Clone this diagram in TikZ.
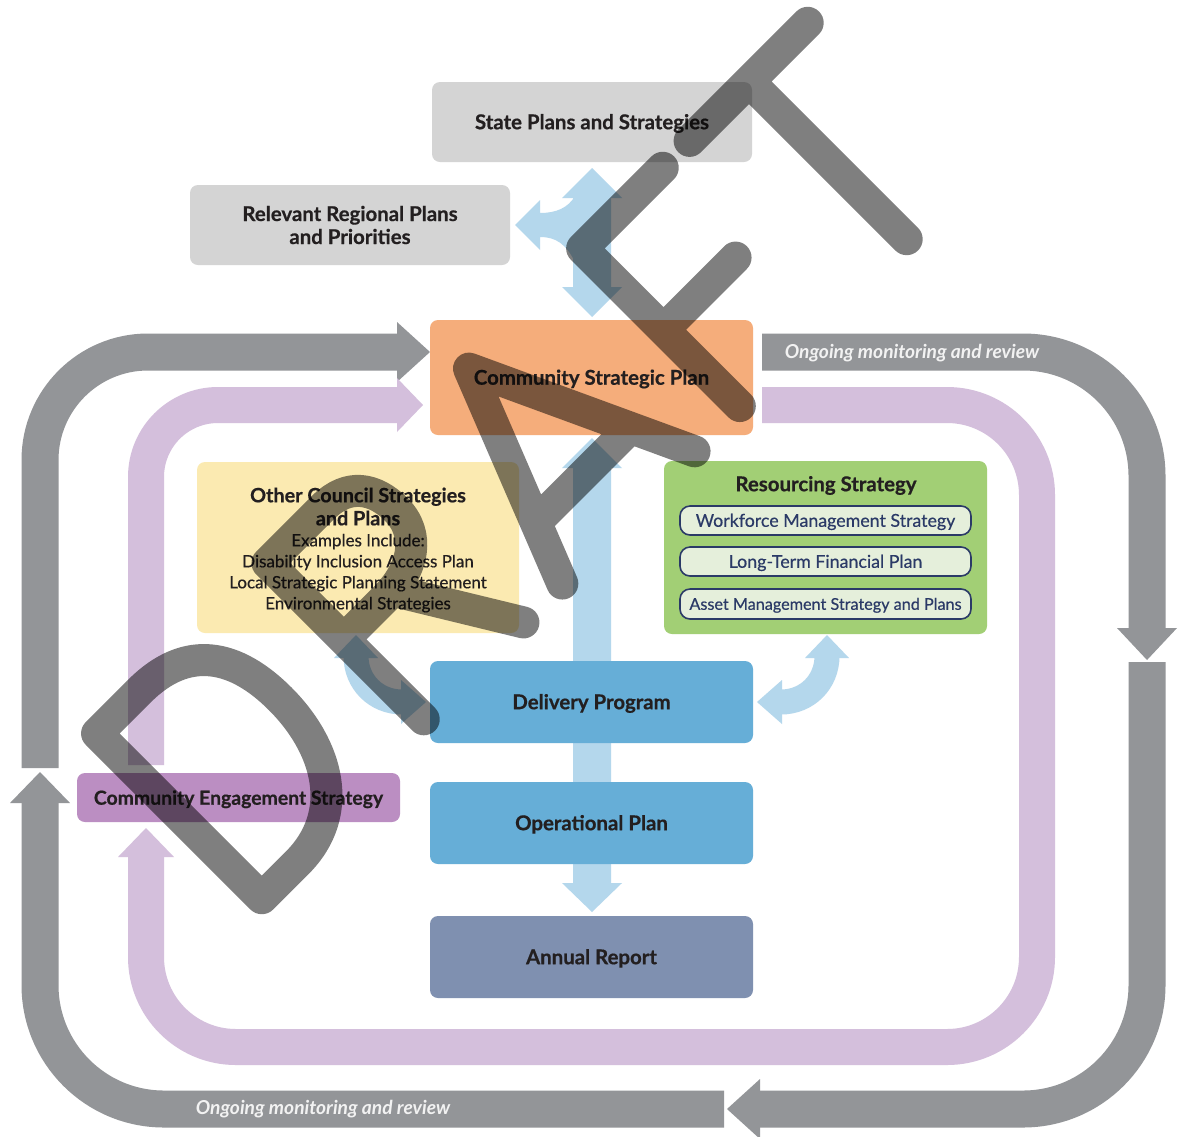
\documentclass[tikz,border=0pt]{standalone}
\usepackage{fontspec}
\setmainfont{Lato}[BoldFeatures={FakeBold=0.6}]
\newfontfamily\medfont{Lato}[FakeBold=0.5]
\definecolor{gbox}{HTML}{D4D4D4}
\definecolor{csp}{HTML}{F5AD7B}
\definecolor{ylw}{HTML}{FBEAB1}
\definecolor{grn}{HTML}{A2CF75}
\definecolor{subfill}{HTML}{E5EFDB}
\definecolor{navy}{HTML}{2B3A67}
\definecolor{bluebox}{HTML}{66AED7}
\definecolor{annual}{HTML}{7F90B0}
\definecolor{cebox}{HTML}{BB8EC2}
\definecolor{loopgray}{HTML}{939598}
\definecolor{looppurple}{HTML}{D4BFDC}
\definecolor{lblue}{HTML}{B4D7EC}
\definecolor{ink}{HTML}{231F20}
\definecolor{band}{HTML}{F2F2F2}
\begin{document}
\begin{tikzpicture}[x=0.5pt,y=-0.5pt,
  box/.style={rounded corners=4pt, inner sep=0pt, align=center, text=ink,
    font=\bfseries\fontsize{10.2}{11.5}\selectfont},
  oneline/.style={text height=7.2pt, text depth=0pt},
  subbox/.style={rounded corners=5pt, draw=navy, line width=0.8pt, fill=subfill,
    inner sep=0pt, minimum width=145.5pt, minimum height=14.5pt, text=navy,
    text height=6.3pt, text depth=0pt, font=\medfont\fontsize{8.9}{10}\selectfont},
  grayband/.style={draw=loopgray, line width=18.5pt},
  purpleband/.style={draw=looppurple, line width=18pt},
  bandtext/.style={text=band, font=\bfseries\itshape\fontsize{9.6}{10}\selectfont,
    inner sep=0pt, text height=6.8pt, text depth=0pt},
  wm/.style={draw=black, draw opacity=0.5, line width=16pt, line cap=round, line join=round}]
\useasboundingbox (0,0) rectangle (1182,1136);
\fill[white] (0,0) rectangle (1182,1136);

% ---------- outer gray loop ----------
\draw[grayband, rounded corners=54pt] (40,768) -- (40,352) -- (398,352);
\fill[loopgray] (397,322) -- (430,352) -- (397,382) -- cycle;
\draw[grayband, rounded corners=62pt] (762,352) -- (1147,352) -- (1147,629);
\fill[loopgray] (1117,628) -- (1147,660) -- (1177,628) -- cycle;
\draw[grayband, rounded corners=62pt] (1147,662) -- (1147,1109) -- (759,1109);
\fill[loopgray] (760,1079) -- (727,1109) -- (760,1139) -- cycle;
\draw[grayband, rounded corners=62pt] (724,1109) -- (40,1109) -- (40,802);
\fill[loopgray] (10,803) -- (40,772) -- (70,803) -- cycle;
\node[bandtext] (mon1) at (912,352) {Ongoing monitoring and review};
\node[bandtext] (mon2) at (323,1108) {Ongoing monitoring and review};

% ---------- inner purple loop ----------
\draw[purpleband, rounded corners=36pt] (146,765) -- (146,405) -- (398,405);
\fill[looppurple] (397,378) -- (423,405) -- (397,432) -- cycle;
\draw[purpleband, rounded corners=45pt] (762,405) -- (1037,405) -- (1037,1047) -- (146,1047) -- (146,856);
\fill[looppurple] (118,857) -- (146,828) -- (174,857) -- cycle;

% ---------- light blue arrows ----------
\fill[lblue] (592,168) -- (622,198) -- (611,198) -- (611,287) -- (622,287) -- (592,317)
  -- (562,287) -- (573,287) -- (573,198) -- (562,198) -- cycle;
\fill[lblue] (575,262) .. controls (566,244) and (556,237) .. (540,237) -- (540,250)
  -- (515,225) -- (540,200) -- (540,213) .. controls (556,213) and (568,208) .. (575,196) -- cycle;
\fill[lblue] (592,438) -- (622,468) -- (611,468) -- (611,883) -- (622,883) -- (592,912)
  -- (562,883) -- (573,883) -- (573,468) -- (562,468) -- cycle;
\draw[lblue, line width=12.5pt] (827,656) .. controls (827,682) and (807,702) .. (781,702);
\fill[lblue] (805,658) -- (827,635) -- (849,658) -- cycle;
\fill[lblue] (782,680) -- (757,702) -- (782,724) -- cycle;
\draw[lblue, line width=12.5pt] (356,656) .. controls (356,682) and (376,702) .. (402,702);
\fill[lblue] (334,658) -- (356,635) -- (378,658) -- cycle;
\fill[lblue] (401,680) -- (426,702) -- (401,724) -- cycle;

% ---------- boxes ----------
\node[box, oneline, fill=gbox, minimum width=160pt, minimum height=40pt] (state) at (592,122) {State Plans and Strategies};
\node[box, fill=gbox, minimum width=160pt, minimum height=40pt] (regional) at (350,225) {Relevant Regional Plans\\and Priorities};
\node[box, oneline, fill=csp, minimum width=161.5pt, minimum height=57.5pt] (csp) at (591.5,377.5) {Community Strategic Plan};
\node[box, fill=ylw, minimum width=161pt, minimum height=85.5pt] (other) at (358,547.5) {};
\node[align=center, text=ink, inner sep=0pt, font=\fontsize{8.5}{10.5}\selectfont] (othertxt) at (358,550)
  {\bfseries\fontsize{9.9}{11.5}\selectfont Other Council Strategies\\[1pt]
   \bfseries\fontsize{9.9}{11.5}\selectfont and Plans\\
   \medfont\fontsize{8.5}{10.5}\selectfont Examples Include:\\
   \medfont\fontsize{8.5}{10.5}\selectfont Disability Inclusion Access Plan\\
   \medfont\fontsize{8.5}{10.5}\selectfont Local Strategic Planning Statement\\
   \medfont\fontsize{8.5}{10.5}\selectfont Environmental Strategies};
\node[box, fill=grn, minimum width=161.5pt, minimum height=86.5pt] (res) at (825.5,547.5) {};
\node[box, oneline] (restitle) at (826,484) {Resourcing Strategy};
\node[subbox] (wms) at (825.5,520.5) {Workforce Management Strategy};
\node[subbox] (ltfp) at (825.5,561.5) {Long-Term Financial Plan};
\node[subbox, minimum height=15pt, text height=5.8pt, font=\medfont\fontsize{8.1}{9}\selectfont] (amsp) at (825.5,604) {Asset Management Strategy and Plans};
\node[box, oneline, fill=bluebox, minimum width=161.5pt, minimum height=41pt] (dp) at (591.5,702) {Delivery Program};
\node[box, oneline, fill=bluebox, minimum width=161.5pt, minimum height=41pt] (op) at (591.5,823) {Operational Plan};
\node[box, oneline, fill=annual, minimum width=161.5pt, minimum height=41pt] (ar) at (591.5,957) {Annual Report};
\node[box, oneline, fill=cebox, minimum width=161.5pt, minimum height=24.5pt, font=\bfseries\fontsize{9.7}{11}\selectfont] (ce) at (238.5,797.5) {Community Engagement Strategy};

% ---------- DRAFT watermark ----------
\begin{scope}[shift={(580,580)}, rotate=45, yscale=-1]
\draw[wm]
 (-450,233) -- (-390,233) .. controls (-322,233) and (-296,190) .. (-296,128)
   .. controls (-296,60) and (-330,0) .. (-400,0) -- (-450,0) -- cycle
 (-209,12) -- (-209,233) -- (-130,233) .. controls (-95,233) and (-80,210) .. (-80,180)
   .. controls (-80,145) and (-110,125) .. (-150,125) -- (-209,125)
 (-140,125) -- (-70,10)
 (-15,10) -- (71,228) -- (172,10)
 (12,72) -- (143,72)
 (236,10) -- (236,233) -- (350,233)
 (236,118) -- (338,118)
 (388,233) -- (555,233)
 (472,233) -- (472,10);
\end{scope}
\end{tikzpicture}
\end{document}
